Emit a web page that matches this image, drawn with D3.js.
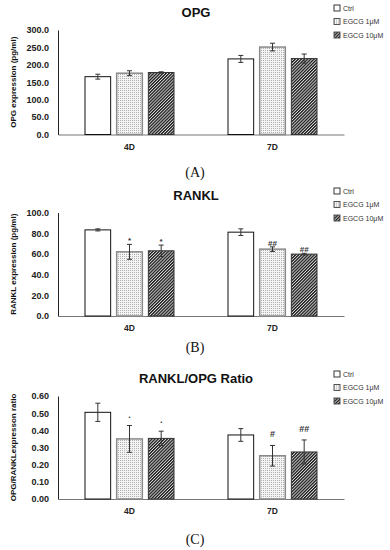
<!DOCTYPE html>
<html>
<head>
<meta charset="utf-8">
<script src="https://cdn.jsdelivr.net/npm/d3@7"></script>
<style>
  body { margin: 0; background: #fff; }
  svg { display: block; }
</style>
</head>
<body>
<div id="chart"></div>
<script>
var days = ['4D', '7D']
var series = ['Ctrl', 'EGCG 1μM', 'EGCG 10μM']

// values per day, one per series
var opgValues = [[166, 176, 178], [217, 251, 218]]
var opgErrors = [[7, 7, 2], [10, 11, 13]]
var opgTicks = [0, 50, 100, 150, 200, 250, 300]

var ranklValues = [[83.2, 62, 63], [81, 64.6, 59.8]]
var ranklErrors = [[1, 7.2, 5.5], [3.2, 2.2, 0.8]]
var ranklTicks = [0, 20, 40, 60, 80, 100]
var ranklMarks = [['', '*', '*'], ['', '##', '##']]

var ratioValues = [[0.505, 0.35, 0.353], [0.373, 0.252, 0.274]]
var ratioErrors = [[0.053, 0.078, 0.042], [0.037, 0.06, 0.07]]
var ratioTicks = [0, 0.1, 0.2, 0.3, 0.4, 0.5, 0.6]
var ratioMarks = [['', '.', '.'], ['', '#', '##']]

var width = 390
var height = 550

var svg = d3.select('#chart')
  .append('svg')
    .attr('width', width)
    .attr('height', height)

// fill patterns
var defs = svg.append('defs')
var dots = defs.append('pattern')
  .attr('id', 'dots')
  .attr('patternUnits', 'userSpaceOnUse')
  .attr('width', 2).attr('height', 2)
dots.append('rect').attr('width', 2).attr('height', 2).attr('fill', '#f4f4f4')
dots.append('rect').attr('width', 1).attr('height', 1).attr('fill', '#b0b0b0')

var hatch = defs.append('pattern')
  .attr('id', 'hatch')
  .attr('patternUnits', 'userSpaceOnUse')
  .attr('width', 2.2).attr('height', 2.2)
  .attr('patternTransform', 'rotate(45)')
hatch.append('rect').attr('width', 2.2).attr('height', 2.2).attr('fill', '#ddd')
hatch.append('rect').attr('width', 1.3).attr('height', 2.2).attr('fill', '#1a1a1a')

var fills = ['#fff', 'url(#dots)', 'url(#hatch)']
var strokes = ['#111', '#8a8a8a', '#333']
var strokeW = [1, 1.5, 1]

var left = 58, right = 344

function panel(cfg) {
  var g = svg.append('g')

  var y = d3.scaleLinear()
    .domain([0, d3.max(cfg.ticks)])
    .range([cfg.bottom, cfg.top])

  var x0 = d3.scaleBand()
    .domain(days)
    .range([left, right])

  var x1 = d3.scaleBand()
    .domain(series)
    .range([27, 116])
    .paddingInner(0.19)

  // title
  g.append('text')
    .attr('x', 196).attr('y', cfg.top - 13)
    .attr('text-anchor', 'middle')
    .style('font', 'bold 13px "Liberation Sans", Arial, sans-serif')
    .style('fill', '#111')
    .text(cfg.title)

  // y axis
  var yAxis = d3.axisLeft(y)
    .tickValues(cfg.ticks)
    .tickSize(0)
    .tickPadding(9)
    .tickFormat(d3.format(cfg.fmt))
  var ya = g.append('g')
    .attr('transform', 'translate(' + left + ',0)')
    .call(yAxis)
  ya.select('.domain').attr('stroke', '#222').attr('stroke-width', 1)
  ya.selectAll('text')
    .style('font', 'bold 9px "Liberation Sans", Arial, sans-serif')
    .style('fill', '#222')

  // x axis
  var xAxis = d3.axisBottom(x0).tickSize(0).tickPadding(9)
  var xa = g.append('g')
    .attr('transform', 'translate(0,' + cfg.bottom + ')')
    .call(xAxis)
  xa.select('.domain').attr('stroke', '#777').attr('stroke-width', 1.2)
  xa.selectAll('text')
    .style('font', 'bold 8.5px "Liberation Sans", Arial, sans-serif')
    .style('fill', '#222')

  // y axis title
  g.append('text')
    .attr('transform', 'translate(16,' + (cfg.top + cfg.bottom) / 2 + ') rotate(-90)')
    .attr('text-anchor', 'middle')
    .style('font', 'bold 8px "Liberation Sans", Arial, sans-serif')
    .style('fill', '#111')
    .text(cfg.ylabel)

  var groups = g.selectAll('.grp')
    .data(days)
    .enter().append('g')
      .attr('class', 'grp')
      .attr('transform', function(d) { return 'translate(' + x0(d) + ',0)' })

  var cells = groups.selectAll('.cell')
    .data(function(d, i) {
      return series.map(function(s, j) {
        return { s: s, j: j, v: cfg.values[i][j], e: cfg.errors[i][j], m: cfg.marks ? cfg.marks[i][j] : '' }
      })
    })
    .enter().append('g')
      .attr('class', 'cell')

  cells.append('rect')
    .attr('x', function(d) { return x1(d.s) })
    .attr('y', function(d) { return y(d.v) })
    .attr('width', x1.bandwidth())
    .attr('height', function(d) { return y(0) - y(d.v) })
    .attr('fill', function(d) { return fills[d.j] })
    .attr('stroke', function(d) { return strokes[d.j] })
    .attr('stroke-width', function(d) { return strokeW[d.j] })

  // error bars
  cells.append('path')
    .attr('d', function(d) {
      var cx = x1(d.s) + x1.bandwidth() / 2
      var t = y(d.v + d.e), b = y(d.v - d.e)
      return 'M' + (cx - 2.5) + ',' + t + 'H' + (cx + 2.5) +
             'M' + cx + ',' + t + 'V' + b +
             'M' + (cx - 2.5) + ',' + b + 'H' + (cx + 2.5)
    })
    .attr('stroke', '#333')
    .attr('stroke-width', 1)
    .attr('fill', 'none')

  // significance marks
  cells.append('text')
    .attr('x', function(d) { return x1(d.s) + x1.bandwidth() / 2 })
    .attr('y', function(d) { return y(d.v + d.e) - cfg.markGap })
    .attr('text-anchor', 'middle')
    .style('font', cfg.markFont)
    .style('fill', '#333')
    .text(function(d) { return d.m })

  // legend
  var lg = g.append('g')
    .attr('transform', 'translate(334,' + cfg.legendTop + ')')
  var items = lg.selectAll('g')
    .data(series)
    .enter().append('g')
      .attr('transform', function(d, i) { return 'translate(0,' + i * 13.5 + ')' })
  items.append('rect')
    .attr('x', 0).attr('y', -3)
    .attr('width', 6).attr('height', 6)
    .attr('fill', function(d, i) { return fills[i] })
    .attr('stroke', function(d, i) { return i == 0 ? '#222' : '#444' })
    .attr('stroke-width', 0.9)
  items.append('text')
    .attr('x', 9).attr('y', 2.5)
    .style('font', '7px "Liberation Sans", Arial, sans-serif')
    .style('fill', '#333')
    .text(function(d) { return d })

  // panel letter
  g.append('text')
    .attr('x', 195).attr('y', cfg.letterY)
    .attr('text-anchor', 'middle')
    .style('font', '14px "Liberation Serif", "Times New Roman", serif')
    .style('fill', '#111')
    .text(cfg.letter)
}

panel({ title: 'OPG', ylabel: 'OPG expression (pg/ml)', values: opgValues, errors: opgErrors,
  ticks: opgTicks, fmt: '.1f', top: 30, bottom: 134.5, legendTop: 8, letter: '(A)', letterY: 177,
  markGap: 4, markFont: '7px sans-serif' })
panel({ title: 'RANKL', ylabel: 'RANKL expression (pg/ml)', values: ranklValues, errors: ranklErrors,
  ticks: ranklTicks, fmt: '.1f', top: 212.5, bottom: 316, legendTop: 191, letter: '(B)', letterY: 352,
  marks: ranklMarks, markGap: 1, markFont: 'bold 8px "Liberation Sans", Arial, sans-serif' })
panel({ title: 'RANKL/OPG Ratio', ylabel: 'OPG/RANKLexpresson ratio', values: ratioValues, errors: ratioErrors,
  ticks: ratioTicks, fmt: '.2f', top: 396, bottom: 499, legendTop: 374, letter: '(C)', letterY: 544,
  marks: ratioMarks, markGap: 8, markFont: 'bold 9px "Liberation Sans", Arial, sans-serif' })
</script>
</body>
</html>
